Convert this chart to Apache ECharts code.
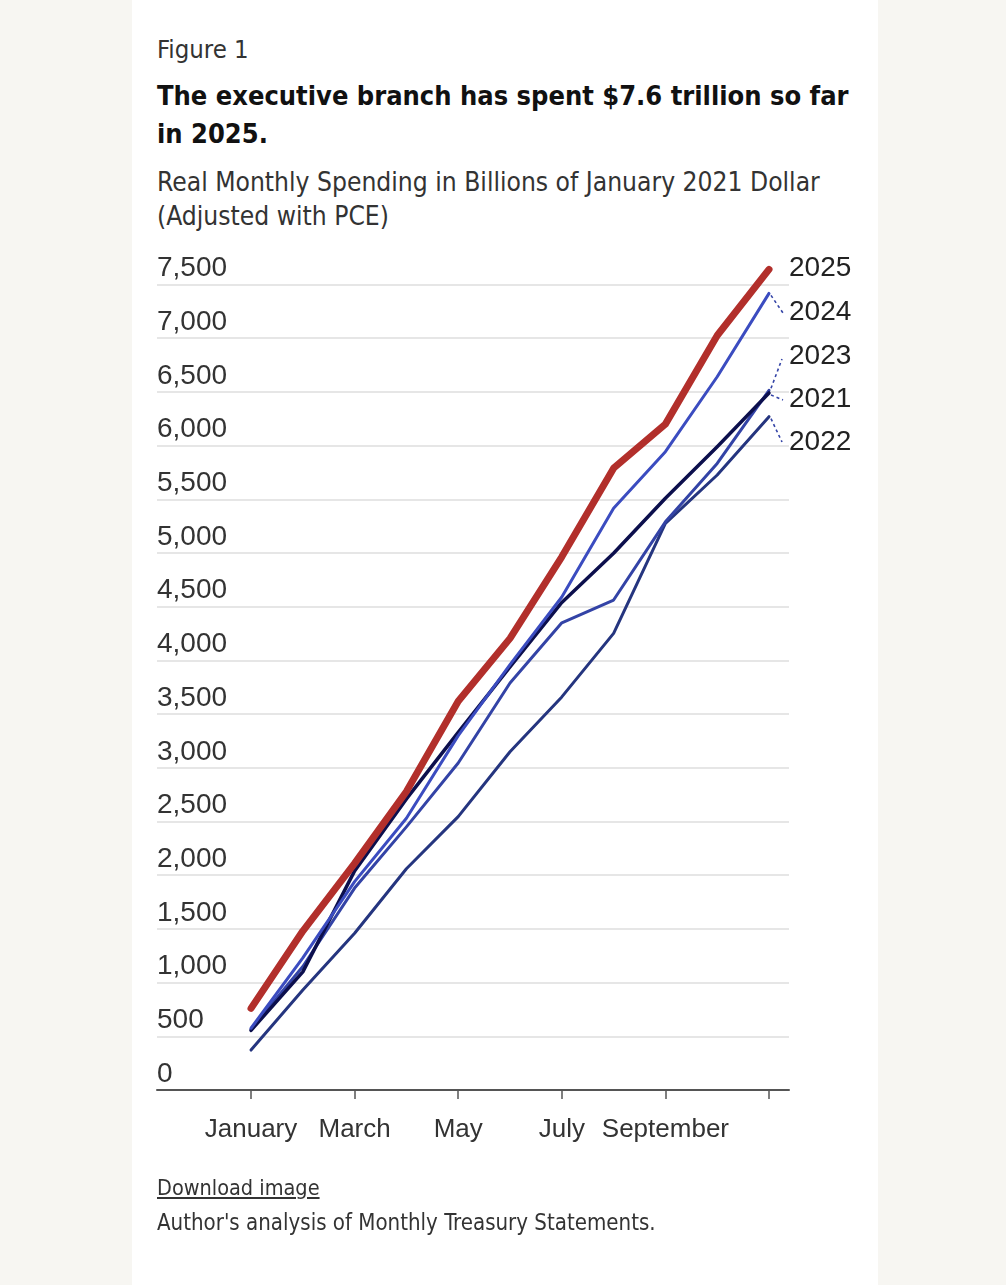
<!DOCTYPE html>
<html>
<head>
<meta charset="utf-8">
<script src="https://cdn.jsdelivr.net/npm/echarts@6/dist/echarts.min.js"></script>
<style>
  html, body { margin:0; padding:0; width:1006px; height:1285px; background:#f7f6f2; overflow:hidden; }
  #panel { position:absolute; left:132px; top:0; width:746px; height:1285px; background:#fff; }
  #chart { position:absolute; left:0; top:0; width:1006px; height:1285px; }
  .t { position:absolute; left:157px; white-space:nowrap; color:#2a2a2a; font-family:"Liberation Sans Narrow","DejaVu Sans Condensed","Liberation Sans",sans-serif; }
  #fig { top:35px; font-size:25.5px; line-height:28px; color:#333; }
  #title { top:77px; font-size:27px; line-height:38px; font-weight:bold; color:#111; }
  #sub { top:165px; font-size:26.2px; line-height:34px; color:#333; }
  #dl { top:1175px; font-size:21.5px; line-height:26px; text-decoration:underline; color:#333; }
  #src { top:1209px; font-size:22.1px; line-height:26px; color:#333; }
</style>
</head>
<body>
<div id="panel"></div>
<div class="t" id="fig">Figure 1</div>
<div class="t" id="title">The executive branch has spent $7.6 trillion so far<br>in 2025.</div>
<div class="t" id="sub">Real Monthly Spending in Billions of January 2021 Dollar<br>(Adjusted with PCE)</div>
<div id="chart"></div>
<div class="t" id="dl">Download image</div>
<div class="t" id="src">Author's analysis of Monthly Treasury Statements.</div>
<script>
// ---- data ----
const months = ['January','February','March','April','May','June','July','August','September','October','November'];
const tickMonths = [1, 3, 5, 7, 9, 11];      // month numbers with ticks
const labelMonths = [1, 3, 5, 7, 9];         // month numbers with labels
const yTicks = [0,500,1000,1500,2000,2500,3000,3500,4000,4500,5000,5500,6000,6500,7000,7500];

const s2025 = [760, 1480, 2110, 2780, 3620, 4205, 4965, 5790, 6200, 7025, 7640];
const s2024 = [575, 1230, 1940, 2530, 3300, 3960, 4590, 5416, 5943, 6641, 7417];
const s2023 = [565, 1150, 1880, 2450, 3045, 3790, 4350, 4562, 5290, 5834, 6515];
const s2021 = [555, 1100, 2040, 2710, 3330, 3940, 4540, 4997, 5510, 5990, 6490];
const s2022 = [372, 931, 1460, 2060, 2545, 3150, 3660, 4252, 5276, 5726, 6269];

const seriesDefs = [
  { name:'2022', data:s2022, color:'#25357f', width:3 },
  { name:'2023', data:s2023, color:'#3343a6', width:3 },
  { name:'2021', data:s2021, color:'#0c0f4d', width:3.5 },
  { name:'2024', data:s2024, color:'#3b4cc0', width:3 },
  { name:'2025', data:s2025, color:'#b22f2b', width:7 }
];

// label placement (pixel positions of right-side year labels)
const endLabels = [
  { name:'2025', y:268, leader:null },
  { name:'2024', y:312, leader:[783,313] },
  { name:'2023', y:356, leader:[782,359] },
  { name:'2021', y:399, leader:[783,400] },
  { name:'2022', y:442, leader:[782,442] }
];

const chart = echarts.init(document.getElementById('chart'), null, {renderer:'canvas'});
const axisFont = '"Liberation Sans", Arial, sans-serif';

const option = {
  animation:false,
  backgroundColor:'transparent',
  grid:{ left:157, right:217, top:284.5, bottom:195, containLabel:false },
  xAxis:{
    type:'value', min:-0.815, max:11.386,
    axisLine:{ show:true, lineStyle:{ color:'#555', width:2 } },
    axisTick:{ show:true, customValues:tickMonths, length:9, lineStyle:{ color:'#555', width:1.5 } },
    axisLabel:{ show:true, customValues:labelMonths, margin:27, fontSize:26, color:'#333', fontFamily:axisFont,
      formatter:(v)=>months[Math.round(v)-1] },
    splitLine:{ show:false }
  },
  yAxis:{
    type:'value', min:0, max:7500, interval:500,
    axisLine:{ show:false }, axisTick:{ show:false },
    axisLabel:{ inside:true, align:'left', verticalAlign:'bottom', margin:0, padding:[0,0,2,0],
      fontSize:28, color:'#333', fontFamily:axisFont,
      formatter:(v)=> yTicks.includes(v) ? v.toLocaleString('en-US') : '' },
    splitLine:{ show:true, lineStyle:{ color:'#e6e6e6', width:2 } }
  },
  series: seriesDefs.map(d => ({
    name:d.name, type:'line', symbol:'none', silent:true, clip:false,
    data:d.data.map((v,i)=>[i+1, v]),
    lineStyle:{ color:d.color, width:d.width, cap:'round', join:'round' },
    z: d.name==='2025' ? 5 : 3
  }))
};
chart.setOption(option);

// right-side labels and dashed leaders
const graphics = [];
endLabels.forEach(l => {
  graphics.push({ type:'text', x:789, y:l.y, style:{ text:l.name, fill:'#222', font:'28px "Liberation Sans", Arial, sans-serif', textVerticalAlign:'middle', textAlign:'left' }, z:10 });
  if (l.leader) {
    const d = seriesDefs.find(s=>s.name===l.name);
    const p = chart.convertToPixel({gridIndex:0}, [d.data.length, d.data[d.data.length-1]]);
    graphics.push({ type:'line', shape:{ x1:p[0]+2, y1:p[1]+(l.leader[1]>p[1]?2:-2), x2:l.leader[0], y2:l.leader[1] },
      style:{ stroke:'#3343a6', lineWidth:1.6, lineDash:[3,3] }, z:10 });
  }
});
chart.setOption({ graphic: graphics });
</script>
</body>
</html>
